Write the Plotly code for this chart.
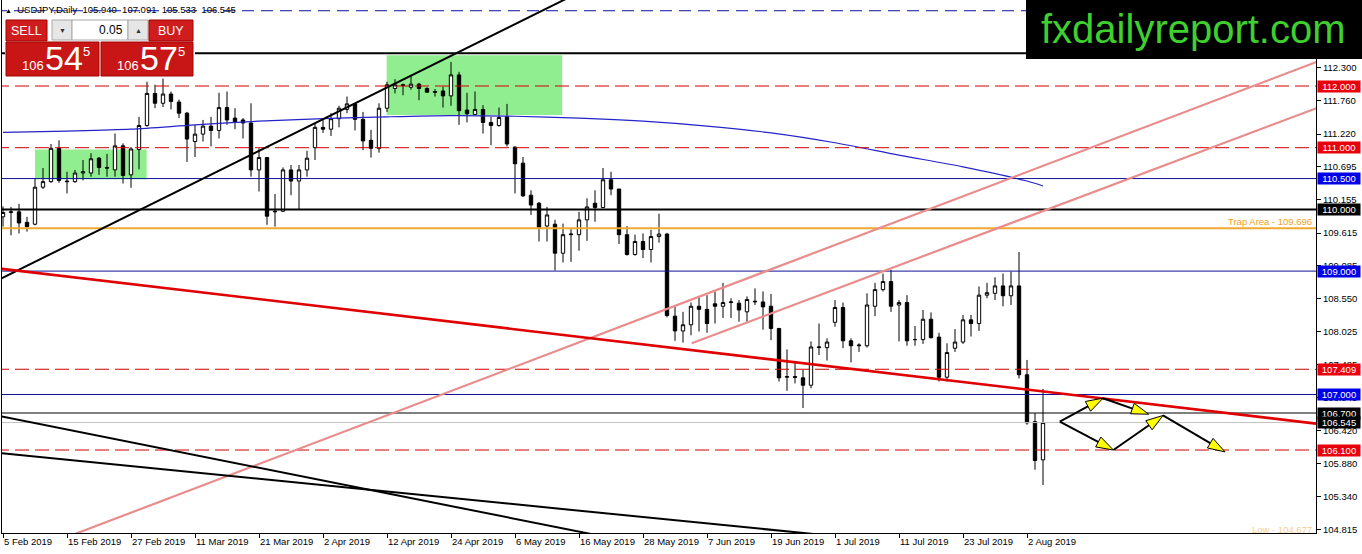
import plotly.graph_objects as go

# USDJPY daily, 5 Feb 2019 .. 6 Aug 2019 (one value per bar)
opens = [
    109.88, 109.95, 109.96, 109.79, 109.76, 110.36, 110.45, 110.99, 110.46, 110.45,
    110.59, 110.59, 110.83, 110.68, 110.64, 111.03, 110.56, 110.97, 111.36, 111.88,
    111.72, 111.87, 111.74, 111.56, 111.10, 111.22, 111.35, 111.28, 111.65, 111.48,
    111.45, 111.40, 110.64, 110.84, 109.96, 109.97, 110.64, 110.46, 110.64, 111.00,
    111.33, 111.30, 111.47, 111.62, 111.71, 111.46, 111.12, 110.99, 111.64, 111.96,
    112.02, 111.98, 112.03, 111.96, 111.91, 111.92, 111.84, 112.18, 111.61, 111.54,
    111.62, 111.41, 111.36, 111.50, 111.01, 110.75, 110.23, 110.10, 109.73, 109.76,
    109.29, 109.59, 109.59, 109.83, 110.10, 110.03, 110.48, 110.33, 109.59, 109.27,
    109.48, 109.35, 109.56, 109.60, 108.27, 108.03, 108.13, 108.43, 108.38, 108.47,
    108.43, 108.49, 108.48, 108.34, 108.50, 108.50, 108.43, 108.07, 107.28, 107.29,
    107.27, 107.15, 107.76, 107.76, 108.17, 108.41, 107.87, 107.79, 107.79, 108.43,
    108.70, 108.83, 108.45, 108.49, 107.89, 107.89, 108.22, 107.93, 107.28, 107.75,
    107.85, 108.21, 108.15, 108.61, 108.64, 108.76, 108.60, 108.76, 107.32, 106.56,
    105.940,
]
highs = [
    110.05, 110.04, 110.09, 109.88, 110.50, 110.67, 111.06, 111.12, 110.61, 110.64,
    110.80, 110.91, 110.85, 110.90, 111.23, 111.07, 111.01, 111.50, 112.07, 112.02,
    112.12, 111.91, 111.78, 111.58, 111.37, 111.45, 111.50, 111.89, 111.91, 111.64,
    111.48, 111.72, 110.99, 110.85, 110.25, 110.68, 110.72, 110.72, 110.95, 111.40,
    111.45, 111.56, 111.68, 111.83, 111.72, 111.58, 111.29, 111.72, 112.07, 112.11,
    112.04, 112.16, 112.05, 111.98, 111.95, 111.99, 112.39, 112.23, 111.89, 111.91,
    111.69, 111.50, 111.65, 111.71, 111.02, 110.85, 110.31, 110.12, 110.04, 109.83,
    109.77, 109.68, 109.96, 110.18, 110.31, 110.67, 110.61, 110.33, 109.73, 109.59,
    109.61, 109.67, 109.93, 109.62, 108.42, 108.34, 108.49, 108.59, 108.61, 108.67,
    108.81, 108.56, 108.53, 108.59, 108.72, 108.67, 108.63, 108.08, 107.73, 107.53,
    107.40, 107.86, 108.15, 107.91, 108.53, 108.49, 107.91, 107.83, 108.64, 108.81,
    108.96, 109.02, 108.53, 108.61, 108.11, 108.37, 108.33, 108.00, 107.83, 108.06,
    108.29, 108.29, 108.75, 108.81, 108.90, 108.96, 108.99, 109.31, 107.56, 106.70,
    107.091,
]
lows = [
    109.72, 109.58, 109.61, 109.64, 109.74, 110.33, 110.43, 110.43, 110.26, 110.43,
    110.47, 110.53, 110.56, 110.53, 110.53, 110.42, 110.35, 110.65, 111.34, 111.64,
    111.66, 111.62, 111.48, 110.77, 110.85, 111.10, 111.02, 111.15, 111.37, 111.30,
    111.15, 110.53, 110.29, 109.75, 109.72, 109.96, 110.23, 109.99, 110.53, 110.80,
    111.24, 111.19, 111.33, 111.56, 111.28, 110.96, 110.84, 110.92, 111.58, 111.88,
    111.85, 111.94, 111.77, 111.89, 111.83, 111.65, 111.68, 111.37, 111.41, 111.53,
    111.23, 111.04, 111.34, 111.02, 110.26, 110.20, 109.91, 109.48, 109.48, 109.01,
    109.14, 109.15, 109.33, 109.49, 109.80, 110.02, 110.23, 109.44, 109.25, 109.25,
    109.21, 109.14, 109.46, 108.25, 107.87, 107.84, 107.96, 108.02, 108.00, 108.15,
    108.24, 108.24, 108.18, 108.18, 108.45, 108.05, 107.88, 107.21, 107.06, 107.18,
    106.78, 107.10, 107.64, 107.55, 108.10, 107.75, 107.52, 107.69, 107.76, 108.27,
    108.67, 108.34, 107.86, 107.79, 107.79, 107.82, 107.91, 107.21, 107.21, 107.69,
    107.82, 107.94, 108.03, 108.56, 108.53, 108.43, 108.45, 107.26, 106.51, 105.78,
    105.533,
]
closes = [
    109.95, 109.96, 109.78, 109.72, 110.36, 110.45, 110.99, 110.47, 110.45, 110.59,
    110.61, 110.82, 110.68, 110.67, 111.03, 110.55, 110.98, 111.36, 111.88, 111.72,
    111.87, 111.75, 111.56, 111.14, 111.22, 111.35, 111.28, 111.65, 111.45, 111.42,
    111.40, 110.64, 110.84, 109.89, 109.97, 110.64, 110.46, 110.64, 110.83, 111.33,
    111.30, 111.47, 111.64, 111.71, 111.46, 111.11, 110.99, 111.64, 112.02, 112.02,
    112.01, 112.03, 111.96, 111.90, 111.90, 111.84, 112.18, 111.60, 111.55, 111.62,
    111.41, 111.36, 111.49, 111.06, 110.74, 110.22, 110.07, 109.71, 109.91, 109.29,
    109.59, 109.60, 109.83, 110.04, 110.03, 110.48, 110.33, 109.59, 109.27, 109.48,
    109.35, 109.56, 109.60, 108.28, 108.03, 108.13, 108.43, 108.38, 108.15, 108.43,
    108.49, 108.50, 108.37, 108.54, 108.51, 108.42, 108.07, 107.27, 107.29, 107.28,
    107.15, 107.77, 107.77, 107.85, 108.41, 107.87, 107.79, 107.80, 108.45, 108.70,
    108.83, 108.43, 108.49, 107.87, 107.89, 108.22, 107.92, 107.28, 107.68, 107.85,
    108.21, 108.15, 108.61, 108.65, 108.76, 108.60, 108.76, 107.32, 106.54, 105.93,
    106.545,
]
assert len(opens) == len(highs) == len(lows) == len(closes) == 131
bars = list(range(len(opens)))

# x axis labels (every 8th bar)
tick_bars = [0, 8, 16, 24, 32, 40, 48, 56, 64, 72, 80, 88, 96, 104, 112, 120, 128]
tick_text = ["5 Feb 2019", "15 Feb 2019", "27 Feb 2019", "11 Mar 2019", "21 Mar 2019",
             "2 Apr 2019", "12 Apr 2019", "24 Apr 2019", "6 May 2019", "16 May 2019",
             "28 May 2019", "7 Jun 2019", "19 Jun 2019", "1 Jul 2019", "11 Jul 2019",
             "23 Jul 2019", "2 Aug 2019"]
price_ticks = [112.300, 111.760, 111.220, 110.695, 110.155, 109.615, 109.085, 108.550,
               108.025, 107.485, 106.945, 106.420, 105.880, 105.340, 104.815]

# moving average (blue)
ma_bars = [0, 8, 16, 24, 32, 40, 48, 56, 64, 72, 80, 88, 96, 104, 112, 120, 128, 130]
ma_vals = [111.25, 111.27, 111.30, 111.37, 111.43, 111.47, 111.50, 111.52, 111.51, 111.48,
           111.43, 111.35, 111.24, 111.08, 110.88, 110.69, 110.46, 110.38]

# horizontal levels
red_dash_levels = [112.000, 111.000, 107.409, 106.100]
blue_levels = [110.500, 109.000, 107.000]
black_thick_levels = [112.53, 110.000]
black_thin_levels = [106.700]
trap_level = 109.696
bid_level = 106.545
top_dash_level = 113.22
low_level = 104.677

# price boxes on the right axis
box_levels = [112.000, 111.000, 110.500, 110.000, 109.000, 107.409, 107.000, 106.700, 106.545, 106.100]
box_colors = ["#e8000b", "#e8000b", "#0000e6", "#000000", "#0000e6", "#e8000b", "#0000e6",
              "#000000", "#000000", "#e8000b"]

# trend lines: (bar, price) end points
black_up_x, black_up_y = [-0.375, 80], [108.87, 114.03]
black_dn1_x, black_dn1_y = [-0.375, 75], [106.65, 104.70]
black_dn2_x, black_dn2_y = [-0.375, 102], [106.05, 104.73]
red_trend_x, red_trend_y = [-0.375, 166], [109.04, 106.50]
pink_a_x, pink_a_y = [8, 166], [104.69, 112.48]
pink_b_x, pink_b_y = [86.09, 166], [107.83, 111.73]

# green zones: bar from/to, price from/to
zone_x0 = [4.0, 47.96]
zone_x1 = [17.96, 69.9]
zone_y0 = [110.49, 111.53]
zone_y1 = [110.97, 112.50]

# projected path arrows
arrow_x0 = [132.1, 137.5, 132.1, 138.8, 145.0]
arrow_y0 = [106.56, 106.94, 106.56, 106.10, 106.66]
arrow_x1 = [137.5, 143.2, 138.8, 145.0, 152.75]
arrow_y1 = [106.94, 106.68, 106.10, 106.66, 106.07]

bid_price = 106.545
ask_price = 106.575
lot = "0.05"

FONT = "Liberation Sans"
XR = [-0.125, 164.125]
YR = [104.755, 113.394]
W, H = 1362, 554
ML, MR, MT, MB = 2, 46, 0, 21
PW, PH = W - ML - MR, H - MT - MB


def PX(x):
    return (x - ML) / PW


def PY(y):
    return 1 - (y - MT) / PH


fig = go.Figure()

fig.add_trace(go.Candlestick(
    x=bars, open=opens, high=highs, low=lows, close=closes,
    increasing=dict(line=dict(color="black", width=1), fillcolor="white"),
    decreasing=dict(line=dict(color="black", width=1), fillcolor="black"),
    whiskerwidth=0, hoverinfo="skip",
))

fig.add_trace(go.Scatter(x=ma_bars, y=ma_vals, mode="lines",
                         line=dict(color="#2424c8", width=1.2, shape="spline", smoothing=0.8)))

xs = [-1, 166]
for lv in red_dash_levels:
    fig.add_trace(go.Scatter(x=xs, y=[lv, lv], mode="lines", line=dict(color="#d20000", width=1, dash="14px,6px")))
for lv in blue_levels:
    fig.add_trace(go.Scatter(x=xs, y=[lv, lv], mode="lines", line=dict(color="#10109a", width=1)))
for lv in black_thick_levels:
    fig.add_trace(go.Scatter(x=xs, y=[lv, lv], mode="lines", line=dict(color="black", width=2)))
for lv in black_thin_levels:
    fig.add_trace(go.Scatter(x=xs, y=[lv, lv], mode="lines", line=dict(color="black", width=1)))
fig.add_trace(go.Scatter(x=xs, y=[trap_level] * 2, mode="lines", line=dict(color="#f0a830", width=2)))
fig.add_trace(go.Scatter(x=xs, y=[bid_level] * 2, mode="lines", line=dict(color="#c0c0c0", width=1)))
fig.add_trace(go.Scatter(x=xs, y=[top_dash_level] * 2, mode="lines",
                         line=dict(color="#10109a", width=1, dash="12px,7px")))

for tx, ty, col, wd in [
    (pink_a_x, pink_a_y, "#e98c8c", 2.2),
    (pink_b_x, pink_b_y, "#e98c8c", 2.2),
    (black_up_x, black_up_y, "black", 2),
    (black_dn1_x, black_dn1_y, "black", 2),
    (black_dn2_x, black_dn2_y, "black", 2),
    (red_trend_x, red_trend_y, "#e00000", 2.6),
]:
    fig.add_trace(go.Scatter(x=tx, y=ty, mode="lines", line=dict(color=col, width=wd)))

for x0, y0, x1, y1 in zip(arrow_x0, arrow_y0, arrow_x1, arrow_y1):
    fig.add_trace(go.Scatter(
        x=[x0, x1], y=[y0, y1], mode="lines+markers",
        line=dict(color="black", width=2),
        marker=dict(symbol="arrow", size=18, angleref="previous", color="#ffff00",
                    opacity=[0, 1], line=dict(color="black", width=1)),
    ))

shapes = []
for a, b, c, d in zip(zone_x0, zone_x1, zone_y0, zone_y1):
    shapes.append(dict(type="rect", xref="x", yref="y", x0=a, x1=b, y0=c, y1=d,
                       fillcolor="#90ee90", line=dict(width=0), layer="below"))


def box(x0, y0, x1, y1, fill, line="rgba(0,0,0,0)"):
    shapes.append(dict(type="rect", xref="paper", yref="paper", x0=PX(x0), x1=PX(x1),
                       y0=PY(y1), y1=PY(y0), fillcolor=fill, line=dict(color=line, width=1),
                       layer="above"))


# one-click trading panel
box(5, 18, 195, 78, "white")
box(6, 20, 47, 41, "#cf1d1d", "#a40000")
box(52, 20, 72, 40, "#e6e6e6", "#a8a8a8")
box(72, 20, 128, 40, "white", "#a8a8a8")
box(128, 20, 148, 40, "#e6e6e6", "#a8a8a8")
box(149, 20, 193, 41, "#cf1d1d", "#a40000")
box(6, 42, 99, 76, "#c81616", "#a40000")
box(101, 42, 193, 76, "#c81616", "#a40000")
# logo
box(1026, 0, 1362, 59, "black")

annotations = []


def txt(x, y, s, size, color="black", xanchor="center", **kw):
    annotations.append(dict(xref="paper", yref="paper", x=PX(x), y=PY(y), text=s, showarrow=False,
                            xanchor=xanchor, yanchor="middle",
                            font=dict(family=FONT, size=size, color=color), **kw))


head = "<span style='font-size:7px'>▲</span>  USDJPY,Daily  " + "  ".join(
    f"{v:.3f}" for v in (opens[-1], highs[-1], lows[-1], closes[-1]))
txt(3, 9, head, 9.5, xanchor="left")

txt(26, 31, "SELL", 12.5, "white")
txt(171, 31, "BUY", 12.5, "white")
txt(62, 30, "▼", 7, "#333333")
txt(138, 30, "▲", 7, "#333333")
txt(125, 30, lot, 12, xanchor="right")

bid_s, ask_s = f"{bid_price:.3f}", f"{ask_price:.3f}"
for base, s in ((6, bid_s), (101, ask_s)):
    txt(base + 27, 65, s[:3], 13, "white")
    txt(base + 58, 58, s[4:6], 34, "white")
    txt(base + 80, 51, s[6], 13, "white")

txt(1193, 29, "fxdailyreport.com", 40, "#3fcf2f")

for lv, col in zip(box_levels, box_colors):
    annotations.append(dict(xref="paper", yref="y", x=1, y=lv, xanchor="left", yanchor="middle",
                            xshift=1, text=f"{lv:.3f}", showarrow=False, bgcolor=col,
                            width=42, height=11, borderpad=0,
                            font=dict(family=FONT, size=9.5, color="white")))

annotations.append(dict(xref="paper", yref="y", x=PX(1314), y=trap_level, xanchor="right",
                        yanchor="bottom", text=f"Trap Area - {trap_level:.3f}", showarrow=False,
                        yshift=-1, font=dict(family=FONT, size=9.5, color="#f0a020")))
annotations.append(dict(xref="paper", yref="paper", x=PX(1314), y=PY(529), xanchor="right",
                        yanchor="middle", text=f"Low - {low_level:.3f}", showarrow=False,
                        font=dict(family=FONT, size=9.5, color="#f5cf95")))

fig.update_layout(
    width=W, height=H,
    margin=dict(l=ML, r=MR, t=MT, b=MB, autoexpand=False),
    paper_bgcolor="white", plot_bgcolor="white",
    showlegend=False, hovermode=False,
    font=dict(family=FONT, size=9.5, color="black"),
    boxgap=0.4,
    shapes=shapes, annotations=annotations,
    xaxis=dict(range=XR, showgrid=False, zeroline=False, showline=True, linecolor="black",
               linewidth=1, ticks="outside", ticklen=4, tickcolor="black",
               tickvals=tick_bars, ticktext=tick_text, ticklabelposition="outside right",
               rangeslider=dict(visible=False), fixedrange=True),
    yaxis=dict(range=YR, side="right", showgrid=False, zeroline=False, showline=True,
               linecolor="black", linewidth=1, mirror=True, ticks="outside", ticklen=4,
               tickcolor="black", tickvals=price_ticks,
               ticktext=[f"{v:.3f}" for v in price_ticks], fixedrange=True),
)

# page margin off so the figure sits flush in the window, no modebar
fig.write_html("out.html", config={"displayModeBar": False},
               post_script="document.body.style.margin='0';document.body.style.overflow='hidden';")
